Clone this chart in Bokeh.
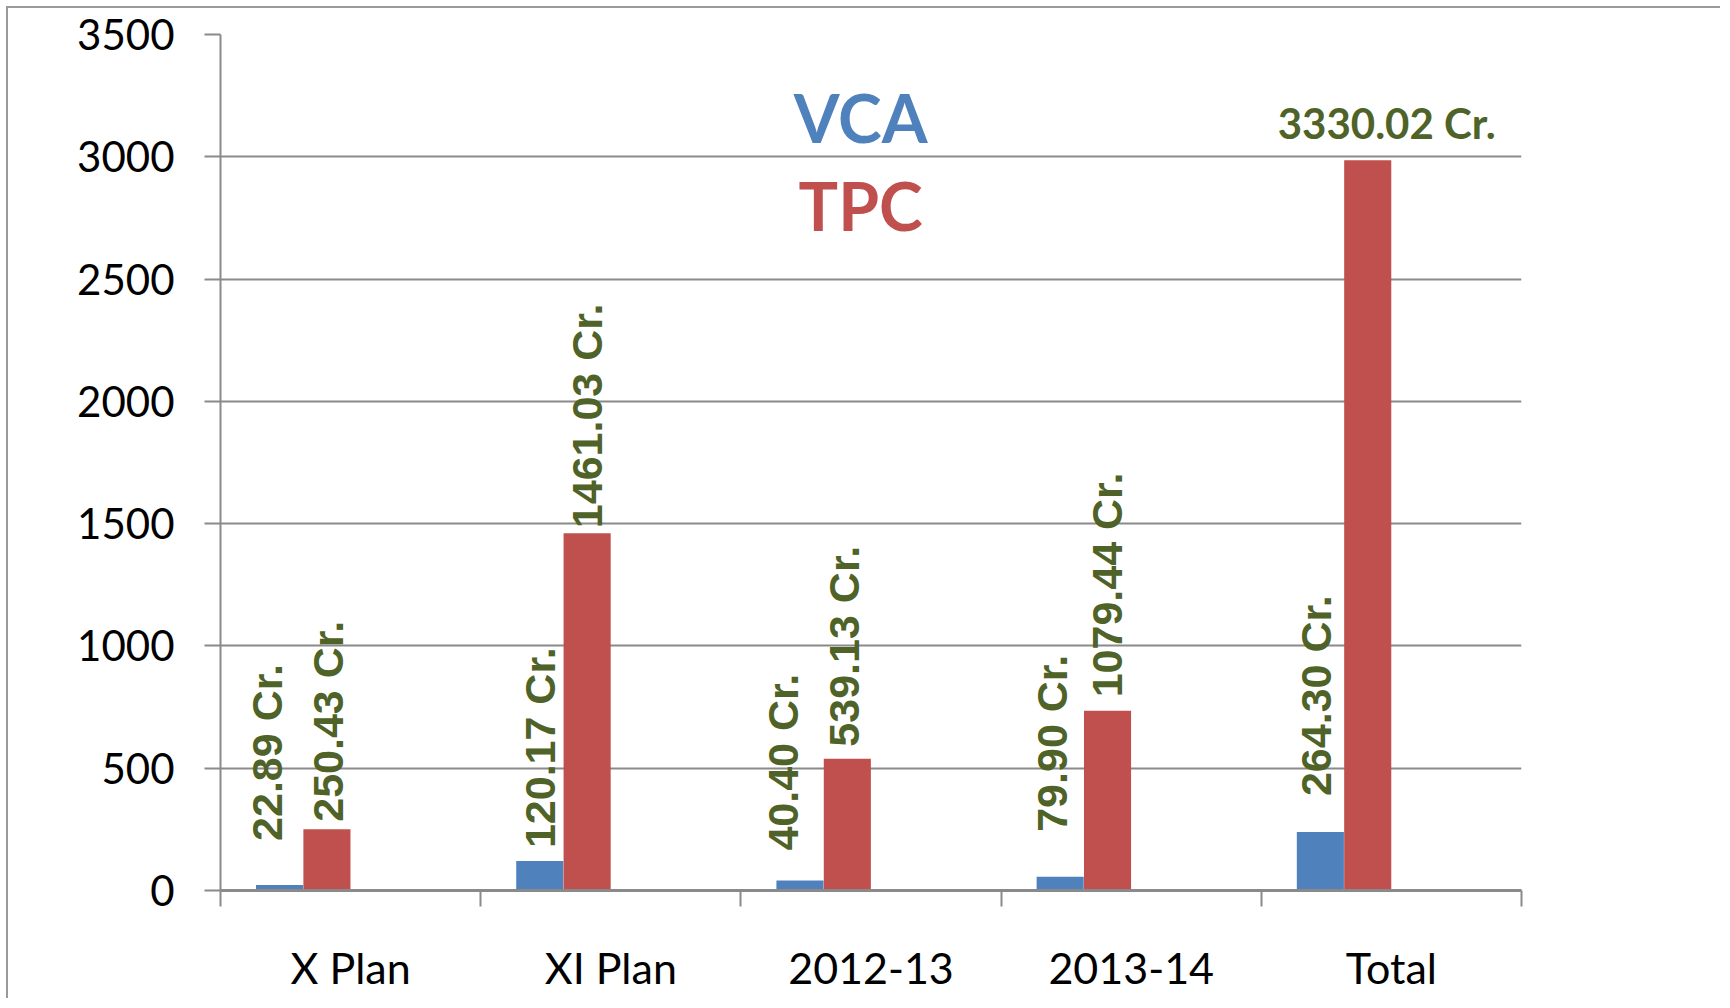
import math
from bokeh.plotting import figure
from bokeh.models import FixedTicker, Label, ColumnDataSource, Range1d
from bokeh.core.properties import value
from bokeh.embed import file_html
from bokeh.resources import INLINE

# ---------------- data ----------------
categories = ["X Plan", "XI Plan", "2012-13", "2013-14", "Total"]
vca = [22.89, 120.17, 40.40, 56, 239]
tpc = [250.43, 1461.03, 539.13, 735, 2986]
vca_labels = ["22.89 Cr.", "120.17 Cr.", "40.40 Cr.", "79.90 Cr.", "264.30 Cr."]
tpc_labels = ["250.43 Cr.", "1461.03 Cr.", "539.13 Cr.", "1079.44 Cr.", "3330.02 Cr."]
y_ticks = [0, 500, 1000, 1500, 2000, 2500, 3000, 3500]
series_names = ["VCA", "TPC"]

# ---------------- styles ----------------
BLUE = "#4F81BD"
RED = "#C0504D"
GREEN = "#4F6228"
GRID = "#8a8a8a"
BAR_W = 0.181
VCA_POS = 0.227
TPC_POS = 0.409
# pixel nudges of the value labels (as placed in the original)
vca_dx = [-13, 0, -17, -8, -4]
vca_gap = [44, 13, 30, 45, 36]
tpc_dx = [1, 0, -3, -1]
tpc_gap = [7.5, 5, 12, 13.4]

idx = list(range(len(categories)))

p = figure(width=1714, height=992,
           x_range=Range1d(0, len(categories)), y_range=Range1d(0, 3500),
           output_backend="svg", toolbar_location=None,
           min_border_left=212, min_border_right=201,
           min_border_top=26, min_border_bottom=110)
p.outline_line_color = None
p.background_fill_color = "white"
p.border_fill_color = "white"
p.styles = {"margin-left": "6px", "margin-top": "6px",
            "border-left": "2px solid #9a9a9a", "border-top": "2px solid #9a9a9a"}

# bars
src_v = ColumnDataSource(dict(x=[i + VCA_POS for i in idx], top=vca))
src_t = ColumnDataSource(dict(x=[i + TPC_POS for i in idx], top=tpc))
p.vbar(x="x", top="top", width=BAR_W, source=src_v, fill_color=BLUE, line_color=None)
p.vbar(x="x", top="top", width=BAR_W, source=src_t, fill_color=RED, line_color=None)

# axes
p.xgrid.visible = False
p.ygrid.ticker = FixedTicker(ticks=y_ticks)
p.ygrid.grid_line_color = GRID
p.ygrid.grid_line_width = 2

p.yaxis.ticker = FixedTicker(ticks=y_ticks)
p.yaxis.axis_line_color = GRID
p.yaxis.axis_line_width = 2
p.yaxis.major_tick_line_color = GRID
p.yaxis.major_tick_line_width = 2
p.yaxis.major_tick_out = 16
p.yaxis.major_tick_in = 0
p.yaxis.minor_tick_line_color = None
p.yaxis.major_label_standoff = 30
p.yaxis.major_label_text_font = "Lato"
p.yaxis.major_label_text_font_size = "42px"
p.yaxis.major_label_text_color = "black"

centers = [i + 0.5 for i in idx]
p.xaxis.ticker = FixedTicker(ticks=centers, minor_ticks=list(range(len(categories) + 1)))
p.xaxis.major_label_overrides = {c: name for c, name in zip(centers, categories)}
p.xaxis.axis_line_color = GRID
p.xaxis.axis_line_width = 3
p.xaxis.major_tick_line_color = None
p.xaxis.major_tick_out = 16
p.xaxis.major_tick_in = 0
p.xaxis.minor_tick_line_color = GRID
p.xaxis.minor_tick_line_width = 2
p.xaxis.minor_tick_out = 16
p.xaxis.minor_tick_in = 0
p.xaxis.major_label_standoff = 35
p.xaxis.major_label_text_font = "Lato"
p.xaxis.major_label_text_font_size = "43px"
p.xaxis.major_label_text_color = "black"

# value labels (vertical)
vl = ColumnDataSource(dict(x=[i + VCA_POS for i in idx], y=vca, text=vca_labels,
                           dx=vca_dx, dy=[-g for g in vca_gap]))
p.text(x="x", y="y", text="text", source=vl, angle=math.pi / 2,
       x_offset="dx", y_offset="dy",
       text_align="left", text_baseline="middle",
       text_font=value("Liberation Sans"), text_font_style="bold",
       text_font_size="43px", text_color=GREEN)

n_v = len(tpc_gap)
tl = ColumnDataSource(dict(x=[i + TPC_POS for i in idx[:n_v]], y=tpc[:n_v], text=tpc_labels[:n_v],
                           dx=tpc_dx, dy=[-g for g in tpc_gap]))
p.text(x="x", y="y", text="text", source=tl, angle=math.pi / 2,
       x_offset="dx", y_offset="dy",
       text_align="left", text_baseline="middle",
       text_font=value("Liberation Sans"), text_font_style="bold",
       text_font_size="43px", text_color=GREEN)

# total label (horizontal)
th = ColumnDataSource(dict(x=[idx[-1] + TPC_POS], y=[tpc[-1]], text=[tpc_labels[-1]]))
p.text(x="x", y="y", text="text", source=th, x_offset=19, y_offset=-37,
       text_align="center", text_baseline="alphabetic",
       text_font=value("Lato"), text_font_style="bold",
       text_font_size="42px", text_color=GREEN)

# series names
p.add_layout(Label(x=2.46, y=3162, text=series_names[0], text_align="center",
                   text_baseline="alphabetic", text_font="Lato", text_font_style="bold",
                   text_font_size="66px", text_color=BLUE))
p.add_layout(Label(x=2.46, y=2802, text=series_names[1], text_align="center",
                   text_baseline="alphabetic", text_font="Lato", text_font_style="bold",
                   text_font_size="66px", text_color=RED))

open("out.html", "w").write(file_html(p, INLINE))
